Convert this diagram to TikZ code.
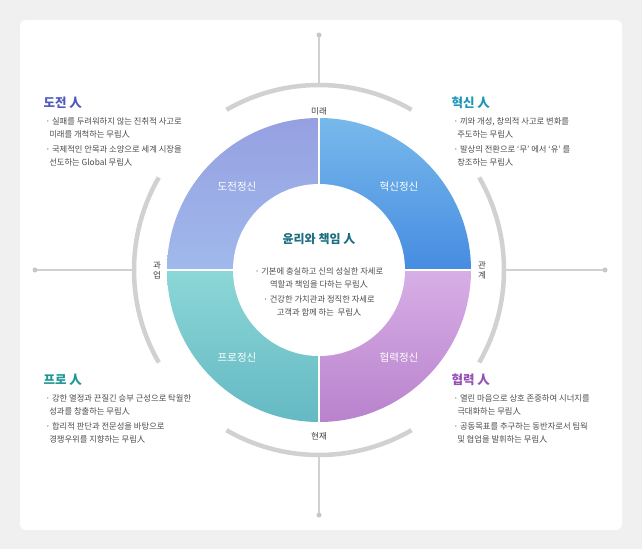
\documentclass[tikz,border=0pt]{standalone}
\usepackage{fontspec}
\setmainfont{Noto Sans CJK KR}
\begin{document}
\begin{tikzpicture}[x=1pt,y=-1pt,
  ttl/.style={font=\fontsize{12.5}{14}\selectfont\bfseries,anchor=west},
  body/.style={font=\fontsize{8.3}{13}\selectfont,anchor=north west,align=left,text=black!70},
  qlab/.style={font=\fontsize{10.5}{11}\selectfont,text=white},
  axl/.style={font=\fontsize{8.5}{10}\selectfont,text=black!75},
  ring/.style={line width=4.5pt,draw=black!18},
  axis/.style={line width=1.2pt,draw=black!18}]
\useasboundingbox (0,0) rectangle (642,549);
\fill[black!6] (0,0) rectangle (642,549);
\fill[white,rounded corners=6pt] (20,20) rectangle (622,530);
\coordinate (c) at (319,270);
% axes
\draw[axis] (319,35) -- (319,85); \fill[black!22] (319,35) circle (2.5);
\draw[axis] (319,455) -- (319,515); \fill[black!22] (319,515) circle (2.5);
\draw[axis] (35,270) -- (134,270); \fill[black!22] (35,270) circle (2.5);
\draw[axis] (504,270) -- (605,270); \fill[black!22] (605,270) circle (2.5);
% rings
\draw[ring] (c) ++(-60:185) arc[start angle=-60,end angle=-120,radius=185];
\draw[ring] (c) ++(60:185) arc[start angle=60,end angle=120,radius=185];
\draw[ring] (c) ++(150:185) arc[start angle=150,end angle=210,radius=185];
\draw[ring] (c) ++(-30:185) arc[start angle=-30,end angle=30,radius=185];
% quadrants
\shade[top color={rgb,255:red,150;green,160;blue,225},bottom color={rgb,255:red,160;green,185;blue,235}] (c) -- (167,270) arc[start angle=180,end angle=270,radius=152] -- cycle;
\shade[top color={rgb,255:red,120;green,185;blue,235},bottom color={rgb,255:red,70;green,140;blue,225}] (c) -- (319,118) arc[start angle=270,end angle=360,radius=152] -- cycle;
\shade[top color={rgb,255:red,140;green,215;blue,215},bottom color={rgb,255:red,100;green,185;blue,195}] (c) -- (167,270) arc[start angle=180,end angle=90,radius=152] -- cycle;
\shade[top color={rgb,255:red,215;green,175;blue,230},bottom color={rgb,255:red,185;green,130;blue,205}] (c) -- (471,270) arc[start angle=0,end angle=90,radius=152] -- cycle;
\draw[white,line width=1.5pt] (167,270) -- (471,270) (319,118) -- (319,422);
\fill[white] (c) circle (86);
% quadrant labels
\node[qlab] (q1) at (237,187) {도전정신};
\node[qlab] (q2) at (399,187) {혁신정신};
\node[qlab] (q3) at (237,358) {프로정신};
\node[qlab] (q4) at (399,358) {협력정신};
\node[axl] (a1) at (319,111) {미래};
\node[axl] (a2) at (319,436) {현재};
\node[axl,align=center,font=\fontsize{8.5}{10}\selectfont] (a3) at (157,270) {과\\업};
\node[axl,align=center,font=\fontsize{8.5}{10}\selectfont] (a4) at (482,270) {관\\계};
% center
\node[font=\fontsize{12}{13}\selectfont\bfseries,text={rgb,255:red,30;green,110;blue,130}] (ct) at (319,239) {윤리와 책임 人};
\node[font=\fontsize{8.3}{13}\selectfont,text=black!70,align=center] (cb) at (319,292) {· 기본에 충실하고 신의 성실한 자세로\\역할과 책임을 다하는 무림人\\[2pt]· 건강한 가치관과 정직한 자세로\\고객과 함께 하는 \ 무림人};
% corners
\node[ttl,text={rgb,255:red,80;green,90;blue,190}] (t1) at (40,103) {도전 人};
\node[body] (b1) at (42,114) {· 실패를 두려워하지 않는 진취적 사고로\\\ \ 미래를 개척하는 무림人\\[2pt]· 국제적인 안목과 소양으로 세계 시장을\\\ \ 선도하는 Global 무림人};
\node[ttl,text={rgb,255:red,30;green,150;blue,185}] (t2) at (448,103) {혁신 人};
\node[body] (b2) at (450,114) {· 끼와 개성, 창의적 사고로 변화를\\\ \ 주도하는 무림人\\[2pt]· 발상의 전환으로 ‘무’ 에서 ‘유’ 를\\\ \ 창조하는 무림人};
\node[ttl,text={rgb,255:red,30;green,150;blue,150}] (t3) at (40,380) {프로 人};
\node[body] (b3) at (42,391) {· 강한 열정과 끈질긴 승부 근성으로 탁월한\\\ \ 성과를 창출하는 무림人\\[2pt]· 합리적 판단과 전문성을 바탕으로\\\ \ 경쟁우위를 지향하는 무림人};
\node[ttl,text={rgb,255:red,150;green,80;blue,180}] (t4) at (448,380) {협력 人};
\node[body] (b4) at (450,391) {· 열린 마음으로 상호 존중하여 시너지를\\\ \ 극대화하는 무림人\\[2pt]· 공동목표를 추구하는 동반자로서 팀웍\\\ \ 및 협업을 발휘하는 무림人};
\end{tikzpicture}
\end{document}
